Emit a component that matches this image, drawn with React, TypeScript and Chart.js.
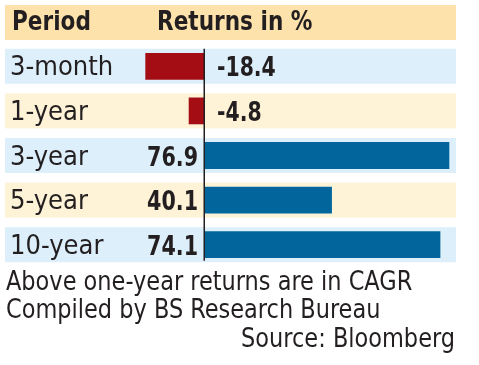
import React, { useEffect, useRef } from "react";
import { Chart, registerables } from "chart.js";

Chart.register(...registerables);

const periods = ["3-month", "1-year", "3-year", "5-year", "10-year"];
const returns = [-18.4, -4.8, 76.9, 40.1, 74.1];
const headerLabels = ["Period", "Returns in %"];
const footnotes = ["Above one-year returns are in CAGR", "Compiled by BS Research Bureau"];
const sourceNote = "Source: Bloomberg";

const FONT = '"DejaVu Sans Condensed", "DejaVu Sans", sans-serif';
const TEXT = "#231F20";
const RED = "#A50D15";
const BLUE = "#02669C";
const BAND_A = "#DCEFFB";
const BAND_B = "#FEF2D7";
const HEADER_BG = "#FDE2AB";

function drawScaled(ctx: CanvasRenderingContext2D, text: string, x: number, y: number, align: CanvasTextAlign, sx: number) {
  ctx.save();
  ctx.translate(x, y);
  ctx.scale(sx, 1);
  ctx.textAlign = align;
  ctx.fillText(text, 0, 0);
  ctx.restore();
}

const tablePlugin = {
  id: "tablePlugin",
  beforeDraw(chart: any) {
    const { ctx, chartArea, scales } = chart;
    const y = scales.y;
    ctx.save();
    ctx.fillStyle = "#ffffff";
    ctx.fillRect(0, 0, chart.width, chart.height);
    const bx = 5;
    const bw = chartArea.right - bx;
    ctx.fillStyle = HEADER_BG;
    ctx.fillRect(bx, 5, bw, 35);
    periods.forEach((_, i) => {
      const cy = y.getPixelForValue(i);
      ctx.fillStyle = i % 2 === 0 ? BAND_A : BAND_B;
      ctx.fillRect(bx, cy - 17.5, bw, 35);
    });
    ctx.restore();
  },
  afterDatasetsDraw(chart: any) {
    const { ctx, chartArea, scales } = chart;
    const x = scales.x;
    const y = scales.y;
    const zx = x.getPixelForValue(0);
    ctx.save();
    const top = y.getPixelForValue(0) - 17.5;
    const bottom = y.getPixelForValue(periods.length - 1) + 16;
    ctx.strokeStyle = TEXT;
    ctx.lineWidth = 1.5;
    ctx.beginPath();
    ctx.moveTo(Math.round(zx) + 0.25, top);
    ctx.lineTo(Math.round(zx) + 0.25, bottom);
    ctx.stroke();
    ctx.fillStyle = TEXT;
    ctx.textBaseline = "alphabetic";
    ctx.font = `bold 27px ${FONT}`;
    returns.forEach((v, i) => {
      const cy = y.getPixelForValue(i) + 10;
      if (v < 0) {
        drawScaled(ctx, v.toFixed(1), zx + 13, cy, "left", 0.84);
      } else {
        drawScaled(ctx, v.toFixed(1), zx - 6, cy, "right", 0.85);
      }
    });
    ctx.font = `bold 27px ${FONT}`;
    drawScaled(ctx, headerLabels[0], 12, 30, "left", 0.89);
    drawScaled(ctx, headerLabels[1], 157, 30, "left", 0.89);
    ctx.font = `26px ${FONT}`;
    drawScaled(ctx, footnotes[0], 6, 290, "left", 0.96);
    drawScaled(ctx, footnotes[1], 6, 318, "left", 0.96);
    drawScaled(ctx, sourceNote, chartArea.right - 1, 347, "right", 0.96);
    ctx.restore();
  },
};

export default function App() {
  const ref = useRef<HTMLCanvasElement | null>(null);
  useEffect(() => {
    if (!ref.current) return;
    const chart = new Chart(ref.current, {
      type: "bar",
      data: {
        labels: periods,
        datasets: [
          {
            data: returns,
            backgroundColor: returns.map((v) => (v < 0 ? RED : BLUE)),
            borderWidth: 0,
            barPercentage: 0.6,
            categoryPercentage: 1,
          },
        ],
      },
      options: {
        indexAxis: "y",
        responsive: false,
        animation: false,
        layout: { padding: { left: 10, right: 23, top: 44, bottom: 98 } },
        plugins: { legend: { display: false }, tooltip: { enabled: false }, title: { display: false } },
        scales: {
          x: { display: false, min: -23.2, max: 79 },
          y: {
            grid: { display: false },
            border: { display: false },
            ticks: {
              crossAlign: "far",
              color: TEXT,
              font: { family: FONT, size: 27, lineHeight: "4px" },
              padding: 0,
              callback: (_v: any, i: number) => ["", periods[i]],
            },
            afterFit: (scale: any) => {
              scale.width = 120;
            },
          },
        },
      },
      plugins: [tablePlugin],
    } as any);
    return () => chart.destroy();
  }, []);
  return (
    <div style={{ position: "absolute", left: 0, top: 0, width: 479, height: 365 }}>
      <canvas ref={ref} width={479} height={365} />
    </div>
  );
}
